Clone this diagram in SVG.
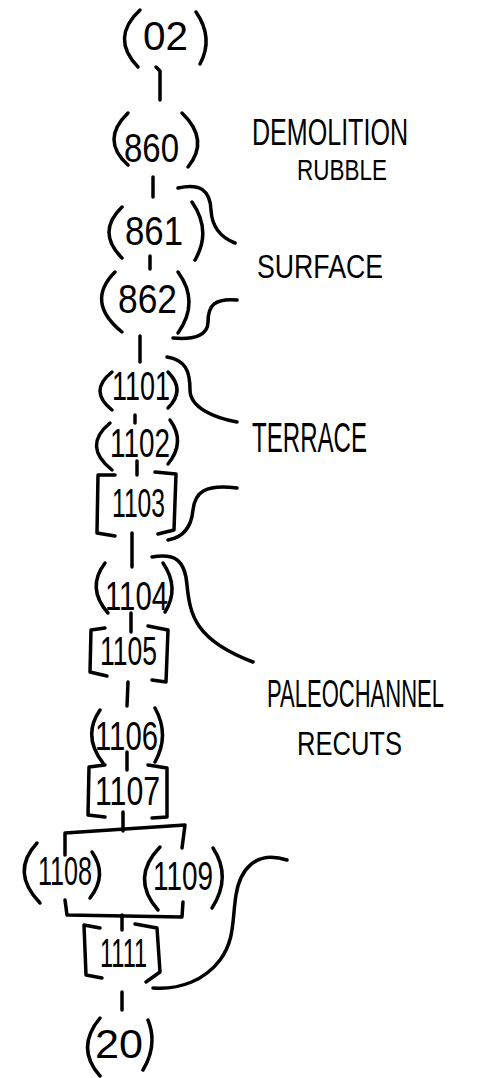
<svg xmlns="http://www.w3.org/2000/svg" width="491" height="1078" viewBox="0 0 491 1078">
<style>
.s{fill:none;stroke:#000;stroke-width:3.5;stroke-linecap:round;stroke-linejoin:round}
.n{font-family:"Liberation Sans",Arial,sans-serif;font-size:40px;fill:#000}
.l{font-family:"Liberation Sans",Arial,sans-serif;fill:#000}
</style>
<rect width="491" height="1078" fill="#fff"/>
<g id="connectors" class="s">
<path d="M156,67 L160,71 L160,100"/>
<path d="M153,177 L153,197"/>
<path d="M150,256 L150,269"/>
<path d="M140,336 L140,362"/>
<path d="M135,415 L135,423"/>
<path d="M137,461 L137,475"/>
<path d="M132,533 L132,567"/>
<path d="M131,613 L131,632"/>
<path d="M128,682 L127,706"/>
<path d="M127,752 L127,770"/>
<path d="M123,812 L123,831"/>
<path d="M65,855 L65,833 L185,825 L182,848"/>
<path d="M65,900 L67,915 L182,917 L183,902"/>
<path d="M122,915 L122,930"/>
<path d="M122,992 L122,1010"/>
</g>
<g id="n02"><path class="s" d="M140,10 Q110,38 138,67 M196,12 Q214,38 200,64"/><text class="n" x="143" y="50" font-size="52" textLength="45" lengthAdjust="spacingAndGlyphs">02</text></g>
<g id="n860"><path class="s" d="M128,113 Q100,140 128,165 M182,113 Q210,140 188,167"/><text class="n" x="124" y="162" font-size="48" textLength="55" lengthAdjust="spacingAndGlyphs">860</text></g>
<g id="n861"><path class="s" d="M122,207 Q96,232 122,258 M192,202 Q212,231 195,260"/><text class="n" x="125" y="245" font-size="51" textLength="58" lengthAdjust="spacingAndGlyphs">861</text></g>
<g id="n862"><path class="s" d="M115,272 Q85,302 122,332 M178,272 Q200,302 178,333"/><text class="n" x="118" y="313" textLength="59" lengthAdjust="spacingAndGlyphs">862</text></g>
<g id="n1101"><path class="s" d="M112,372 Q88,391 112,410 M168,372 Q186,390 168,408"/><text class="n" x="112" y="400" font-size="38" textLength="58" lengthAdjust="spacingAndGlyphs">1101</text></g>
<g id="n1102"><path class="s" d="M110,423 Q82,446 112,470 M170,420 Q186,442 168,464"/><text class="n" x="110" y="457" font-size="36" textLength="60" lengthAdjust="spacingAndGlyphs">1102</text></g>
<g id="n1103"><path class="s" d="M115,475 L98,475 L97,533 L115,536 M155,472 L176,474 L174,530 L158,534"/><text class="n" x="112" y="517" textLength="53" lengthAdjust="spacingAndGlyphs">1103</text></g>
<g id="n1104"><path class="s" d="M105,563 Q86,588 108,613 M163,563 Q180,588 165,612"/><text class="n" x="105" y="610" textLength="63" lengthAdjust="spacingAndGlyphs">1104</text></g>
<g id="n1105"><path class="s" d="M105,628 L91,630 L90,672 L107,676 M148,626 L168,630 L166,682 L152,680"/><text class="n" x="100" y="665" font-size="38" textLength="57" lengthAdjust="spacingAndGlyphs">1105</text></g>
<g id="n1106"><path class="s" d="M100,710 Q82,736 103,763 M155,708 Q170,735 155,762"/><text class="n" x="95" y="750" font-size="39" textLength="63" lengthAdjust="spacingAndGlyphs">1106</text></g>
<g id="n1107"><path class="s" d="M105,765 L89,767 L88,815 L105,817 M148,765 L167,768 L167,817 L152,818"/><text class="n" x="95" y="805" font-size="39" textLength="65" lengthAdjust="spacingAndGlyphs">1107</text></g>
<g id="n1108"><path class="s" d="M37,843 Q10,872 40,903 M92,852 Q108,875 90,898"/><text class="n" x="38" y="885" textLength="54" lengthAdjust="spacingAndGlyphs">1108</text></g>
<g id="n1109"><path class="s" d="M160,847 Q130,878 158,910 M213,848 Q232,877 212,908"/><text class="n" x="153" y="890" font-size="42" textLength="60" lengthAdjust="spacingAndGlyphs">1109</text></g>
<g id="n1111"><path class="s" d="M100,928 L84,925 L86,975 L102,978 M135,924 L157,928 L160,972 L146,982"/><text class="n" x="100" y="967" font-size="46" textLength="47" lengthAdjust="spacingAndGlyphs">1111</text></g>
<g id="n20"><path class="s" d="M100,1018 Q75,1048 100,1076 M148,1020 Q158,1045 143,1070"/><text class="n" x="95" y="1058" font-size="44" textLength="48" lengthAdjust="spacingAndGlyphs">20</text></g>
<g id="label-demolition">
<text class="l" transform="translate(252,145) scale(1,1.45)" font-size="25" textLength="156" lengthAdjust="spacingAndGlyphs">DEMOLITION</text>
<text class="l" transform="translate(297,180) scale(1,1.3)" font-size="22.5" textLength="90" lengthAdjust="spacingAndGlyphs">RUBBLE</text>
</g>
<g id="label-surface"><path class="s" d="M178,188 C200,183 210,190 211,210 C212,228 222,238 235,243 M237,300 C215,298 208,305 208,322 C208,335 195,340 173,338"/>
<text class="l" transform="translate(257,278) scale(1,1.25)" font-size="26" textLength="126" lengthAdjust="spacingAndGlyphs">SURFACE</text></g>
<g id="label-terrace"><path class="s" d="M167,357 C185,360 190,370 190,390 C190,408 215,418 237,422 M237,488 C205,484 195,492 193,510 C191,530 180,538 168,540"/>
<text class="l" transform="translate(252,452) scale(1,1.8)" font-size="24" textLength="115" lengthAdjust="spacingAndGlyphs">TERRACE</text></g>
<g id="label-paleochannel"><path class="s" d="M152,557 C175,553 185,560 187,585 C190,615 195,640 253,662 M287,860 C255,850 240,870 236,895 C232,920 235,940 220,960 C205,980 180,990 153,988"/>
<text class="l" transform="translate(267,707) scale(1,1.8)" font-size="22" textLength="177" lengthAdjust="spacingAndGlyphs">PALEOCHANNEL</text>
<text class="l" transform="translate(297,755) scale(1,1.35)" font-size="25" textLength="105" lengthAdjust="spacingAndGlyphs">RECUTS</text></g>
</svg>
